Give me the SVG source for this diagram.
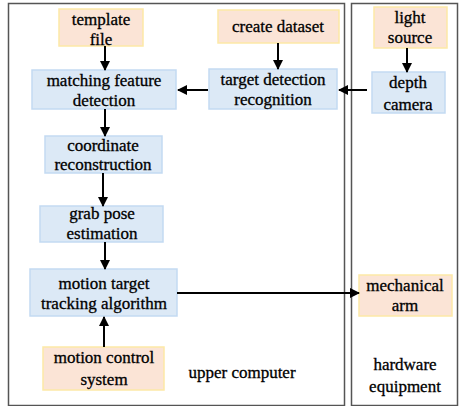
<svg xmlns="http://www.w3.org/2000/svg" width="461" height="406" viewBox="0 0 461 406">
<style>
.frame{fill:none;stroke:#555;stroke-width:1.5}
.blue{fill:#dce9f6;stroke:#c3daf2;stroke-width:1.5}
.orange{fill:#fbe4d6;stroke:#fde9a6;stroke-width:1.5}
.t{font-family:'Liberation Serif','Times New Roman',serif;font-size:17px;fill:#000;stroke:#000;stroke-width:0.3;text-anchor:middle}
.conn line{stroke:#000;stroke-width:2;marker-end:url(#ah)}
</style>
<defs>
<marker id="ah" markerWidth="10" markerHeight="10" refX="9" refY="5" orient="auto" markerUnits="userSpaceOnUse">
<path d="M0,0 L10,5 L0,10 Z" fill="#000"/>
</marker>
</defs>
<rect width="461" height="406" fill="#fff"/>
<g id="frames">
<rect class="frame" x="8.5" y="3.5" width="336" height="402"/>
<rect class="frame" x="351.5" y="3.5" width="106" height="402"/>
</g>
<g id="template-file"><rect class="orange" x="59" y="9" width="84" height="37"/><text class="t" x="101" y="25">template</text><text class="t" x="101" y="45">file</text></g>
<g id="create-dataset"><rect class="orange" x="218" y="10" width="121" height="33"/><text class="t" x="278" y="32">create dataset</text></g>
<g id="light-source"><rect class="orange" x="374" y="7" width="73" height="41"/><text class="t" x="410" y="23">light</text><text class="t" x="410" y="43">source</text></g>
<g id="matching"><rect class="blue" x="32" y="70" width="144" height="39"/><text class="t" x="104" y="86">matching feature</text><text class="t" x="104" y="106">detection</text></g>
<g id="target-detection"><rect class="blue" x="209" y="69" width="128" height="40"/><text class="t" x="273" y="85">target detection</text><text class="t" x="273" y="105">recognition</text></g>
<g id="depth-camera"><rect class="blue" x="372" y="72" width="73" height="41"/><text class="t" x="408" y="88">depth</text><text class="t" x="408" y="110">camera</text></g>
<g id="coordinate"><rect class="blue" x="45" y="136" width="117" height="37"/><text class="t" x="103" y="151">coordinate</text><text class="t" x="103" y="170">reconstruction</text></g>
<g id="grab-pose"><rect class="blue" x="40" y="206" width="123" height="36"/><text class="t" x="102" y="219">grab pose</text><text class="t" x="102" y="239">estimation</text></g>
<g id="motion-target"><rect class="blue" x="30" y="269" width="147" height="47"/><text class="t" x="104" y="289">motion target</text><text class="t" x="104" y="309">tracking algorithm</text></g>
<g id="motion-control"><rect class="orange" x="43" y="347" width="121" height="43"/><text class="t" x="104" y="363">motion control</text><text class="t" x="104" y="385">system</text></g>
<g id="mechanical-arm"><rect class="orange" x="359" y="275" width="93" height="41"/><text class="t" x="405" y="291">mechanical</text><text class="t" x="405" y="311">arm</text></g>
<g id="labels">
<text class="t" x="242" y="378">upper computer</text>
<text class="t" x="405" y="370">hardware</text>
<text class="t" x="405" y="392">equipment</text>
</g>
<g class="conn" id="connectors">
<line x1="105" y1="46" x2="105" y2="70"/>
<line x1="278" y1="43" x2="278" y2="69"/>
<line x1="407" y1="48" x2="407" y2="72"/>
<line x1="367" y1="90" x2="339" y2="90"/>
<line x1="208" y1="90" x2="178" y2="90"/>
<line x1="105" y1="109" x2="105" y2="136"/>
<line x1="103" y1="173" x2="103" y2="206"/>
<line x1="105" y1="242" x2="105" y2="269"/>
<line x1="104" y1="347" x2="104" y2="317"/>
<line x1="177" y1="293" x2="359" y2="293"/>
</g>
</svg>
